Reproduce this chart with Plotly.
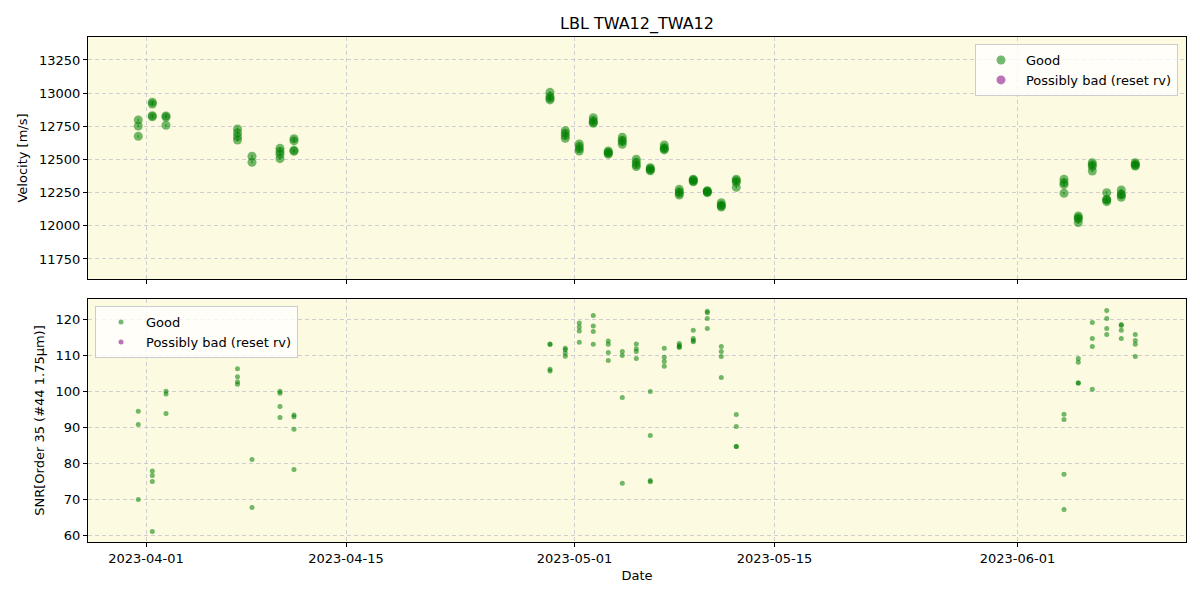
import plotly.graph_objects as go

# ---- data ----
night_times = [
    "2023-03-31 11:02", "2023-04-01 10:34", "2023-04-02 09:36", "2023-04-07 09:43",
    "2023-04-08 10:05", "2023-04-10 09:07", "2023-04-11 08:38",
    "2023-04-29 06:43", "2023-04-30 08:24", "2023-05-01 07:55", "2023-05-02 07:26",
    "2023-05-03 08:38", "2023-05-04 08:10", "2023-05-05 07:41", "2023-05-06 07:12",
    "2023-05-07 06:43", "2023-05-08 07:55", "2023-05-09 07:26", "2023-05-10 06:58",
    "2023-05-11 06:29", "2023-05-12 07:41",
    "2023-06-04 06:14", "2023-06-05 06:14", "2023-06-06 05:46", "2023-06-07 06:00",
    "2023-06-08 06:29", "2023-06-09 06:00",
]
rv_per_night = [
    [12798, 12752, 12675], [12932, 12918, 12830, 12822], [12828, 12820, 12758],
    [12730, 12700, 12672, 12647], [12524, 12479], [12584, 12560, 12539, 12506],
    [12657, 12640, 12570, 12562],
    [13006, 12975, 12961, 12949], [12717, 12698, 12680, 12660], [12617, 12597, 12580, 12564],
    [12815, 12793, 12780, 12773], [12564, 12555, 12547, 12540], [12667, 12645, 12634, 12614],
    [12502, 12479, 12460, 12446], [12438, 12430, 12421, 12415], [12609, 12589, 12580, 12572],
    [12275, 12257, 12245, 12232], [12351, 12345, 12338, 12332], [12265, 12260, 12255, 12250],
    [12174, 12157, 12150, 12142], [12351, 12340, 12328, 12290],
    [12351, 12325, 12310, 12245], [12074, 12060, 12052, 12024], [12476, 12460, 12446, 12413],
    [12250, 12200, 12195, 12182], [12270, 12240, 12233, 12215], [12476, 12465, 12456, 12450],
]
snr_per_night = [
    [94.4, 90.75, 69.9], [77.8, 76.6, 74.9, 61.0], [100.0, 99.2, 93.8],
    [106.2, 104.0, 102.6, 101.9], [81.0, 67.7], [100.0, 99.4, 95.75, 92.7],
    [93.4, 92.9, 89.4, 78.25],
    [113.1, 112.96, 106.1, 105.6], [111.9, 111.5, 110.6, 109.7], [118.9, 117.8, 116.7, 113.6],
    [121.0, 118.1, 116.6, 113.0], [113.9, 113.0, 110.75, 108.5], [111.0, 109.9, 98.25, 74.4],
    [113.1, 111.75, 111.0, 109.1], [99.9, 87.7, 75.2, 74.8], [111.9, 109.4, 108.25, 106.9],
    [113.25, 112.7, 112.3, 112.1], [116.9, 114.6, 114.1, 113.7], [122.2, 121.75, 120.2, 117.4],
    [112.4, 111.0, 109.6, 103.8], [93.5, 90.2, 84.6, 84.6],
    [93.6, 92.1, 76.9, 67.1], [109.1, 108.0, 102.3, 102.2], [119.1, 114.6, 112.4, 100.5],
    [122.4, 120.2, 117.4, 115.75], [118.5, 118.25, 116.9, 114.6], [115.75, 114.1, 113.0, 109.6],
]
rv_error = 10.0

x_tick_dates = ["2023-04-01", "2023-04-15", "2023-05-01", "2023-05-15", "2023-06-01"]
rv_ticks = [11750, 12000, 12250, 12500, 12750, 13000, 13250]
snr_ticks = [60, 70, 80, 90, 100, 110, 120]

# flatten
times, rv, snr = [], [], []
for t, vs, ss in zip(night_times, rv_per_night, snr_per_night):
    for v, s in zip(vs, ss):
        times.append(t)
        rv.append(v)
        snr.append(s)

GREEN = "rgba(0,128,0,0.55)"
PURPLE = "rgba(128,0,128,0.55)"
FONT = "DejaVu Sans"

fig = go.Figure()
fig.add_trace(go.Scatter(
    x=times, y=rv, mode="markers", name="Good",
    marker=dict(color=GREEN, size=9),
    error_y=dict(type="constant", value=rv_error, color=GREEN, thickness=1.5, width=0),
    xaxis="x", yaxis="y", legend="legend",
))
fig.add_trace(go.Scatter(
    x=[None], y=[None], mode="markers", name="Possibly bad (reset rv)",
    marker=dict(color=PURPLE, size=9),
    error_y=dict(type="constant", value=rv_error, color=PURPLE, thickness=1.5, width=0),
    xaxis="x", yaxis="y", legend="legend",
))
fig.add_trace(go.Scatter(
    x=times, y=snr, mode="markers", name="Good",
    marker=dict(color=GREEN, size=5),
    xaxis="x2", yaxis="y2", legend="legend2",
))
fig.add_trace(go.Scatter(
    x=[None], y=[None], mode="markers", name="Possibly bad (reset rv)",
    marker=dict(color=PURPLE, size=5),
    xaxis="x2", yaxis="y2", legend="legend2",
))

x_range = ["2023-03-27 22:34", "2023-06-12 19:12"]
grid = dict(showgrid=True, gridcolor="rgba(176,176,196,0.6)", griddash="4px,3px", gridwidth=1)
axis_common = dict(showline=True, linecolor="black", linewidth=1, mirror=True,
                   ticks="outside", ticklen=4, tickcolor="black", zeroline=False,
                   tickfont=dict(size=13, color="black"), **grid)

fig.update_layout(
    width=1200, height=600,
    margin=dict(l=88, r=14, t=37, b=58),
    paper_bgcolor="white",
    plot_bgcolor="#FCFAE0",
    font=dict(family=FONT, size=13, color="black"),
    title=dict(text="LBL TWA12_TWA12", x=0.5, xref="paper", xanchor="center",
               y=1 - 23 / 600, yref="container", yanchor="middle", font=dict(size=16)),
    xaxis=dict(domain=[0, 1], anchor="y", range=x_range, tickvals=x_tick_dates,
               showticklabels=False, matches="x2", **axis_common),
    yaxis=dict(domain=[0.5208, 1], anchor="x", range=[11599, 13423], tickvals=rv_ticks,
               tickformat="d",
               title=dict(text="Velocity [m/s]", font=dict(size=13), standoff=8),
               **axis_common),
    xaxis2=dict(domain=[0, 1], anchor="y2", range=x_range, tickvals=x_tick_dates,
                tickformat="%Y-%m-%d",
                title=dict(text="Date", font=dict(size=13), standoff=6), **axis_common),
    yaxis2=dict(domain=[0, 0.4812], anchor="x2", range=[58.1, 125.6], tickvals=snr_ticks,
                tickformat="d",
                title=dict(text="SNR[Order 35 (#44 1.75μm)]", font=dict(size=13), standoff=8),
                **axis_common),
    legend=dict(x=0.9927, y=0.986, xanchor="right", yanchor="top",
                bgcolor="rgba(255,255,255,0.8)", bordercolor="#cccccc", borderwidth=1,
                font=dict(size=13), itemwidth=40),
    legend2=dict(x=0.0064, y=0.467, xanchor="left", yanchor="top",
                 bgcolor="rgba(255,255,255,0.8)", bordercolor="#cccccc", borderwidth=1,
                 font=dict(size=13), itemwidth=40),
    showlegend=True,
)

fig.write_html("out.html")
